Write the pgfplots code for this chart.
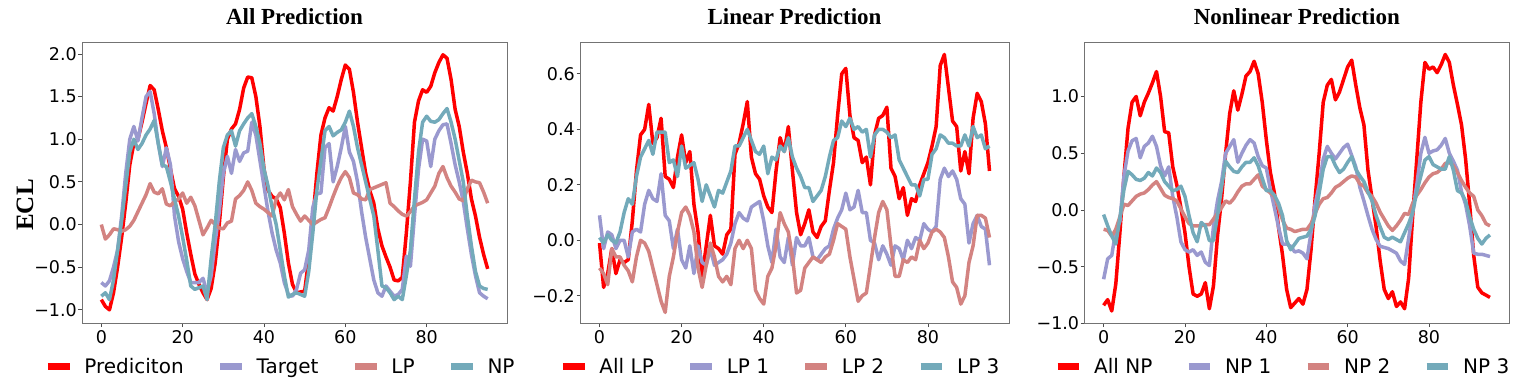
\documentclass[border=0pt]{standalone}
\usepackage{fontspec}
\setmainfont{DejaVu Sans}
\newfontfamily\titlefont{Liberation Serif}
\usepackage{pgfplots}
\usepackage{pgfplotstable}
\pgfplotsset{compat=1.18}
\definecolor{cred}{RGB}{255,0,0}
\definecolor{cpur}{RGB}{154,153,207}
\definecolor{cros}{RGB}{211,131,129}
\definecolor{ctea}{RGB}{115,170,186}

\pgfplotstableread{
i a b c d
0 -0.88 -0.68 0.00 -0.84
1 -0.96 -0.72 -0.17 -0.80
2 -1.00 -0.66 -0.12 -0.88
3 -0.80 -0.50 -0.05 -0.65
4 -0.50 -0.30 -0.06 -0.30
5 -0.15 0.10 -0.08 0.05
6 0.25 0.60 -0.06 0.45
7 0.70 1.00 -0.02 0.85
8 0.95 1.15 0.05 1.00
9 1.00 0.98 0.15 0.88
10 1.20 1.25 0.25 0.95
11 1.42 1.50 0.35 1.05
12 1.63 1.56 0.48 1.12
13 1.58 1.30 0.38 1.22
14 1.35 0.95 0.36 0.95
15 1.10 0.68 0.42 0.70
16 0.90 0.90 0.24 0.68
17 0.65 0.70 0.22 0.50
18 0.42 0.10 0.27 0.30
19 0.33 -0.20 0.30 0.10
20 0.18 -0.40 0.37 -0.15
21 -0.10 -0.55 0.25 -0.42
22 -0.35 -0.68 0.32 -0.72
23 -0.58 -0.68 0.22 -0.76
24 -0.70 -0.68 0.05 -0.74
25 -0.80 -0.63 -0.12 -0.72
26 -0.88 -0.80 -0.04 -0.88
27 -0.75 -0.60 0.05 -0.40
28 -0.45 -0.20 0.00 0.00
29 0.00 0.15 -0.04 0.50
30 0.55 0.60 -0.05 0.90
31 1.00 0.80 0.02 1.05
32 1.12 0.60 0.04 1.10
33 1.18 0.88 0.30 0.92
34 1.35 0.74 0.34 1.10
35 1.60 0.84 0.40 1.18
36 1.73 0.86 0.50 1.25
37 1.72 1.20 0.40 1.30
38 1.50 1.05 0.25 1.15
39 1.15 0.75 0.21 0.95
40 0.65 0.45 0.18 0.65
41 0.40 0.15 0.14 0.45
42 0.33 -0.10 0.10 0.20
43 0.30 -0.30 0.30 0.00
44 0.20 -0.45 0.37 -0.30
45 -0.10 -0.68 0.29 -0.60
46 -0.45 -0.82 0.41 -0.85
47 -0.70 -0.84 0.21 -0.82
48 -0.80 -0.76 0.12 -0.80
49 -0.79 -0.57 0.04 -0.82
50 -0.78 -0.53 0.10 -0.84
51 -0.40 -0.30 0.05 -0.55
52 0.05 0.20 0.00 -0.10
53 0.60 0.36 0.03 0.40
54 1.05 0.37 0.06 0.75
55 1.25 0.90 0.08 1.10
56 1.37 0.95 0.20 1.15
57 1.33 0.50 0.33 1.04
58 1.50 0.68 0.45 1.08
59 1.70 0.90 0.55 1.11
60 1.87 1.15 0.62 1.20
61 1.82 0.85 0.55 1.33
62 1.55 0.74 0.37 1.15
63 1.20 0.50 0.35 0.90
64 0.90 0.15 0.30 0.70
65 0.60 -0.15 0.29 0.50
66 0.40 -0.40 0.41 0.30
67 0.25 -0.65 0.43 0.10
68 -0.05 -0.80 0.45 -0.30
69 -0.25 -0.84 0.47 -0.72
70 -0.38 -0.72 0.49 -0.74
71 -0.50 -0.78 0.25 -0.80
72 -0.65 -0.84 0.21 -0.88
73 -0.66 -0.82 0.16 -0.84
74 -0.62 -0.76 0.12 -0.88
75 -0.10 -0.37 0.10 -0.60
76 0.50 -0.49 0.15 -0.30
77 1.20 0.10 0.22 0.30
78 1.45 0.65 0.24 0.85
79 1.58 1.00 0.26 1.20
80 1.55 0.98 0.29 1.27
81 1.62 0.68 0.37 1.21
82 1.78 1.00 0.45 1.20
83 1.90 1.10 0.60 1.23
84 1.99 1.17 0.68 1.30
85 1.95 1.18 0.55 1.36
86 1.70 0.95 0.45 1.20
87 1.35 0.70 0.38 1.00
88 1.15 0.50 0.30 0.75
89 0.85 0.27 0.28 0.50
90 0.60 -0.05 0.42 0.10
91 0.30 -0.35 0.52 -0.25
92 0.10 -0.60 0.50 -0.55
93 -0.15 -0.80 0.49 -0.72
94 -0.35 -0.84 0.38 -0.75
95 -0.52 -0.87 0.25 -0.76
}\tA

\pgfplotstableread{
i a b c d
0 -0.01 0.09 -0.10 0.01
1 -0.17 -0.03 -0.12 -0.01
2 -0.12 0.03 -0.16 0.02
3 -0.03 0.02 -0.03 0.00
4 -0.12 -0.03 -0.06 -0.01
5 -0.07 0.00 -0.06 0.03
6 -0.08 0.00 -0.09 0.10
7 -0.07 -0.06 -0.11 0.15
8 0.07 0.03 -0.15 0.13
9 0.25 0.04 -0.06 0.23
10 0.38 0.03 0.00 0.30
11 0.40 0.13 -0.01 0.33
12 0.49 0.18 -0.04 0.36
13 0.35 0.15 -0.10 0.31
14 0.37 0.14 -0.16 0.39
15 0.44 0.24 -0.22 0.39
16 0.23 0.09 -0.26 0.39
17 0.22 0.07 -0.13 0.28
18 0.19 -0.03 -0.06 0.29
19 0.30 0.04 0.03 0.23
20 0.38 -0.07 0.10 0.34
21 0.28 -0.10 0.12 0.26
22 0.32 -0.02 0.09 0.27
23 0.13 -0.12 0.03 0.28
24 0.03 -0.02 -0.10 0.22
25 -0.13 -0.08 -0.17 0.14
26 -0.02 -0.09 -0.09 0.20
27 0.09 -0.03 -0.01 0.16
28 -0.02 -0.09 -0.06 0.12
29 -0.03 -0.08 -0.13 0.18
30 -0.05 -0.07 -0.15 0.17
31 0.02 -0.05 -0.13 0.21
32 0.04 -0.01 -0.16 0.25
33 0.31 0.06 -0.03 0.34
34 0.35 0.10 0.00 0.34
35 0.42 0.08 -0.03 0.37
36 0.50 0.07 0.00 0.40
37 0.30 0.12 -0.03 0.36
38 0.24 0.13 -0.18 0.32
39 0.22 0.14 -0.21 0.31
40 0.16 0.07 -0.23 0.34
41 0.12 -0.02 -0.13 0.24
42 0.10 -0.08 -0.10 0.30
43 0.25 0.04 -0.02 0.29
44 0.37 -0.06 0.10 0.34
45 0.32 -0.08 0.06 0.32
46 0.41 0.01 0.03 0.37
47 0.25 -0.09 -0.06 0.30
48 0.10 0.01 -0.19 0.26
49 0.02 -0.02 -0.18 0.23
50 0.06 -0.02 -0.10 0.19
51 0.11 0.01 -0.08 0.19
52 0.03 -0.06 -0.06 0.14
53 0.01 -0.07 -0.07 0.16
54 0.05 -0.05 -0.08 0.18
55 0.07 -0.03 -0.06 0.23
56 0.18 -0.02 -0.05 0.30
57 0.28 0.04 0.00 0.36
58 0.45 0.08 0.06 0.37
59 0.60 0.11 0.05 0.43
60 0.62 0.17 0.04 0.41
61 0.45 0.11 -0.06 0.44
62 0.37 0.12 -0.14 0.40
63 0.36 0.18 -0.22 0.41
64 0.28 0.10 -0.20 0.39
65 0.30 0.10 -0.19 0.40
66 0.20 0.00 -0.09 0.30
67 0.38 -0.01 0.01 0.38
68 0.44 -0.07 0.10 0.40
69 0.45 -0.02 0.14 0.40
70 0.48 -0.05 0.11 0.39
71 0.26 -0.09 -0.02 0.37
72 0.23 -0.02 -0.13 0.38
73 0.15 -0.03 -0.13 0.29
74 0.19 -0.07 -0.07 0.26
75 0.09 0.00 -0.08 0.23
76 0.15 -0.03 -0.06 0.20
77 0.14 0.01 -0.07 0.20
78 0.20 0.00 0.00 0.16
79 0.24 0.06 -0.03 0.22
80 0.28 0.04 -0.01 0.22
81 0.34 0.03 0.03 0.31
82 0.41 0.05 0.04 0.33
83 0.63 0.22 0.03 0.38
84 0.67 0.26 0.01 0.37
85 0.55 0.23 -0.06 0.35
86 0.43 0.25 -0.15 0.35
87 0.41 0.22 -0.17 0.34
88 0.25 0.15 -0.23 0.34
89 0.32 0.13 -0.20 0.38
90 0.24 -0.01 -0.08 0.34
91 0.44 0.06 -0.02 0.41
92 0.53 0.09 0.09 0.37
93 0.50 0.05 0.09 0.38
94 0.42 0.04 0.08 0.33
95 0.25 -0.09 0.01 0.34
}\tB

\pgfplotstableread{
i a b c d
0 -0.84 -0.61 -0.17 -0.04
1 -0.79 -0.43 -0.18 -0.14
2 -0.89 -0.40 -0.23 -0.23
3 -0.65 -0.18 -0.17 -0.30
4 -0.20 -0.10 -0.06 -0.07
5 0.30 0.30 0.05 0.18
6 0.72 0.52 0.04 0.34
7 0.95 0.61 0.08 0.31
8 1.00 0.63 0.12 0.27
9 0.83 0.46 0.14 0.26
10 0.95 0.56 0.15 0.28
11 1.03 0.59 0.18 0.33
12 1.12 0.65 0.22 0.30
13 1.22 0.56 0.25 0.37
14 1.00 0.39 0.19 0.33
15 0.69 0.30 0.13 0.25
16 0.68 0.38 0.11 0.21
17 0.38 0.12 0.10 0.17
18 0.22 -0.06 0.08 0.18
19 0.02 -0.28 0.01 0.21
20 -0.20 -0.35 -0.06 0.12
21 -0.50 -0.37 -0.12 -0.05
22 -0.74 -0.35 -0.14 -0.20
23 -0.76 -0.40 -0.14 -0.28
24 -0.74 -0.37 -0.14 -0.11
25 -0.64 -0.46 -0.13 -0.14
26 -0.87 -0.49 -0.13 -0.27
27 -0.67 -0.15 -0.08 -0.27
28 -0.23 0.08 -0.03 -0.05
29 0.10 0.25 0.02 0.20
30 0.50 0.50 0.08 0.43
31 0.85 0.56 0.06 0.38
32 1.05 0.62 0.10 0.34
33 0.88 0.42 0.16 0.33
34 1.02 0.50 0.21 0.38
35 1.18 0.57 0.23 0.42
36 1.22 0.62 0.23 0.42
37 1.31 0.59 0.27 0.46
38 1.20 0.47 0.31 0.39
39 0.95 0.39 0.21 0.28
40 0.62 0.37 0.18 0.17
41 0.33 0.18 0.15 0.17
42 0.15 0.02 0.12 0.13
43 -0.15 -0.15 0.02 0.06
44 -0.40 -0.30 -0.09 -0.05
45 -0.70 -0.30 -0.16 -0.27
46 -0.86 -0.32 -0.17 -0.35
47 -0.82 -0.37 -0.19 -0.30
48 -0.78 -0.36 -0.18 -0.25
49 -0.83 -0.38 -0.17 -0.24
50 -0.70 -0.43 -0.17 -0.23
51 -0.35 -0.20 -0.12 -0.17
52 0.10 0.05 -0.03 -0.05
53 0.50 0.22 0.05 0.15
54 0.95 0.45 0.10 0.36
55 1.10 0.56 0.11 0.47
56 1.15 0.50 0.15 0.47
57 0.97 0.45 0.20 0.39
58 1.04 0.50 0.22 0.33
59 1.15 0.55 0.25 0.36
60 1.26 0.58 0.28 0.42
61 1.32 0.48 0.30 0.47
62 1.10 0.38 0.29 0.36
63 0.90 0.20 0.23 0.30
64 0.75 0.08 0.21 0.25
65 0.35 -0.05 0.15 0.16
66 0.10 -0.17 0.12 0.08
67 -0.15 -0.26 0.06 -0.05
68 -0.45 -0.32 -0.02 -0.15
69 -0.70 -0.33 -0.08 -0.24
70 -0.78 -0.34 -0.14 -0.26
71 -0.72 -0.36 -0.18 -0.24
72 -0.85 -0.38 -0.14 -0.26
73 -0.81 -0.45 -0.09 -0.28
74 -0.87 -0.48 -0.03 -0.20
75 -0.60 -0.25 -0.04 -0.12
76 -0.05 0.00 0.06 -0.02
77 0.45 0.22 0.13 0.16
78 0.95 0.50 0.18 0.30
79 1.30 0.64 0.24 0.44
80 1.24 0.50 0.29 0.47
81 1.26 0.52 0.32 0.40
82 1.21 0.53 0.33 0.38
83 1.28 0.57 0.36 0.36
84 1.37 0.63 0.41 0.36
85 1.30 0.50 0.42 0.47
86 1.10 0.43 0.39 0.35
87 0.93 0.35 0.33 0.17
88 0.75 0.16 0.26 0.15
89 0.45 0.05 0.20 0.08
90 0.05 -0.14 0.15 -0.06
91 -0.40 -0.38 0.12 -0.17
92 -0.68 -0.39 0.00 -0.25
93 -0.73 -0.39 -0.05 -0.30
94 -0.75 -0.40 -0.12 -0.25
95 -0.77 -0.41 -0.14 -0.22
}\tC

\pgfplotsset{
  panel/.style={
    height=281.5bp, scale only axis,
    xmin=-4.75, xmax=99.75,
    xtick={0,20,40,60,80},
    xticklabels={0,20,40,60,80},
    axis line style={black!55, line width=0.8bp},
    tick style={black!70, line width=0.8bp},
    tick align=outside, major tick length=3.5bp,
    tick pos=left,
    ticklabel style={font=\fontsize{17.5bp}{17.5bp}\selectfont, inner sep=0pt},
    xticklabel style={yshift=-3bp},
    yticklabel style={xshift=-1.5bp},
    title style={at={(0.5,1)}, anchor=base, yshift=12bp, inner sep=0pt,
      font=\titlefont\bfseries\fontsize{23bp}{23bp}\selectfont},
    legend style={draw=none, fill=none, legend columns=4,
      at={(0.5,0)}, anchor=center, xshift=-15bp, yshift=-43bp,
      font=\fontsize{20bp}{20bp}\selectfont,
      nodes={inner sep=0pt},
      /tikz/every odd column/.append style={column sep=11.5bp},
      /tikz/every even column/.append style={column sep=33bp}},
    legend image code/.code={\draw[line width=6.7bp, line cap=butt] (0bp,0bp) -- (21.7bp,0bp);},
    every axis plot/.append style={line width=3.5bp, line join=round, no markers},
  }
}

\begin{document}
\begin{tikzpicture}
\begin{axis}[panel, at={(82bp,65.5bp)}, width=425bp,
  ymin=-1.16, ymax=2.14,
  ytick={-1,-0.5,0,0.5,1,1.5,2},
  yticklabels={−1.0,−0.5,0.0,0.5,1.0,1.5,2.0},
  title={All Prediction},
  ylabel={ECL},
  ylabel style={at={(axis description cs:-0.134,0.421)}, anchor=center,
    inner sep=0pt, font=\titlefont\bfseries\fontsize{25bp}{25bp}\selectfont}]
\addplot[cred] table[x=i,y=a] {\tA}; \addlegendentry{Prediciton}
\addplot[cpur] table[x=i,y=b] {\tA}; \addlegendentry{Target}
\addplot[cros] table[x=i,y=c] {\tA}; \addlegendentry{LP}
\addplot[ctea] table[x=i,y=d] {\tA}; \addlegendentry{NP}
\end{axis}

\begin{axis}[panel, at={(580bp,65.5bp)}, width=429bp,
  ymin=-0.30, ymax=0.715,
  ytick={-0.2,0,0.2,0.4,0.6},
  yticklabels={−0.2,0.0,0.2,0.4,0.6},
  title={Linear Prediction}]
\addplot[cred] table[x=i,y=a] {\tB}; \addlegendentry{All LP}
\addplot[cpur] table[x=i,y=b] {\tB}; \addlegendentry{LP 1}
\addplot[cros] table[x=i,y=c] {\tB}; \addlegendentry{LP 2}
\addplot[ctea] table[x=i,y=d] {\tB}; \addlegendentry{LP 3}
\end{axis}

\begin{axis}[panel, at={(1084.3bp,65.5bp)}, width=425bp,
  ymin=-1.0, ymax=1.48,
  ytick={-1,-0.5,0,0.5,1},
  yticklabels={−1.0,−0.5,0.0,0.5,1.0},
  title={Nonlinear Prediction}]
\addplot[cred] table[x=i,y=a] {\tC}; \addlegendentry{All NP}
\addplot[cpur] table[x=i,y=b] {\tC}; \addlegendentry{NP 1}
\addplot[cros] table[x=i,y=c] {\tC}; \addlegendentry{NP 2}
\addplot[ctea] table[x=i,y=d] {\tC}; \addlegendentry{NP 3}
\end{axis}
\pgfresetboundingbox
\path[use as bounding box] (0bp,0bp) rectangle (1522bp,389bp);
\end{tikzpicture}
\end{document}
